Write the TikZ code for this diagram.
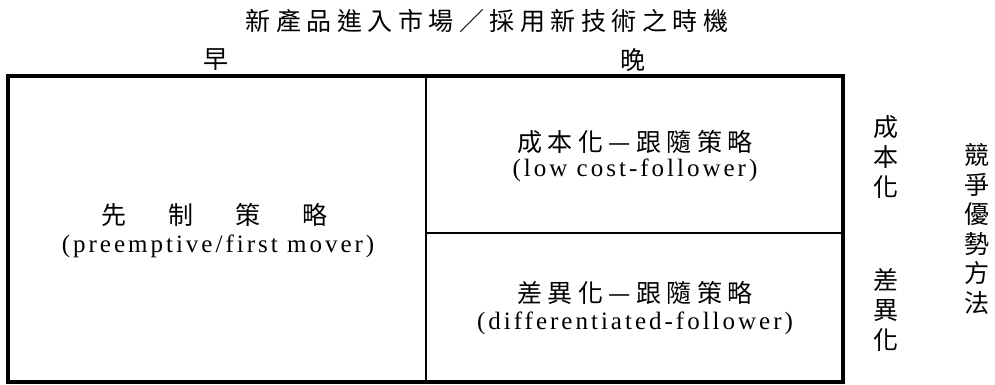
\documentclass[tikz,border=0pt]{standalone}
\usepackage{fontspec}
\setmainfont{Liberation Serif}
\newfontfamily\cjk[LetterSpace=22]{Noto Sans CJK TC}
\newfontfamily\cjkplain{Noto Sans CJK TC}
\newfontfamily\enspaced[LetterSpace=12]{Liberation Serif}
\begin{document}
\begin{tikzpicture}[x=1pt,y=-1pt,
  every node/.style={inner sep=0pt,outer sep=0pt},
  cn/.style={font=\cjk\fontsize{25}{30}\selectfont},
  cnp/.style={font=\cjkplain\fontsize{25}{30}\selectfont},
  cnv/.style={font=\cjkplain\fontsize{25}{29.6}\selectfont,align=center},
  enf/.style={font=\enspaced\fontsize{25}{28}\selectfont},
  outerline/.style={line width=3.5pt,line join=miter},
  innerline/.style={line width=2.5pt}]
\useasboundingbox (0,0) rectangle (995,384);
% header
\node[cn] (title) at (487,21) {新產品進入市場／採用新技術之時機};
\node[cnp] (early) at (216,60) {早};
\node[cnp] (late) at (633,60) {晚};
% grid
\coordinate (tl) at (8,76);
\coordinate (br) at (843,382);
\coordinate (vt) at (426,76);
\coordinate (vb) at (426,382);
\coordinate (hl) at (426,233);
\coordinate (hr) at (843,233);
\draw[outerline] (tl) rectangle (br);
\draw[innerline] (vt) -- (vb);
\draw[innerline] (hl) -- (hr);
% cells
\node[cnp] (pre) at (214.5,215) {先\hspace{42pt}制\hspace{42pt}策\hspace{42pt}略};
\node[enf] (preen) at (218,246) {(preemptive/first mover)};
\node[cn] (cost) at (635,142) {成本化—跟隨策略};
\node[enf] (costen) at (635,170) {(low cost-follower)};
\node[cn] (diff) at (635,293) {差異化—跟隨策略};
\node[enf] (diffen) at (635,323) {(differentiated-follower)};
% side labels
\node[cnv] (costv) at (886,157) {成\\本\\化};
\node[cnv] (diffv) at (886,310) {差\\異\\化};
\node[cnv] (adv) at (977,229) {競\\爭\\優\\勢\\方\\法};
\end{tikzpicture}
\end{document}
